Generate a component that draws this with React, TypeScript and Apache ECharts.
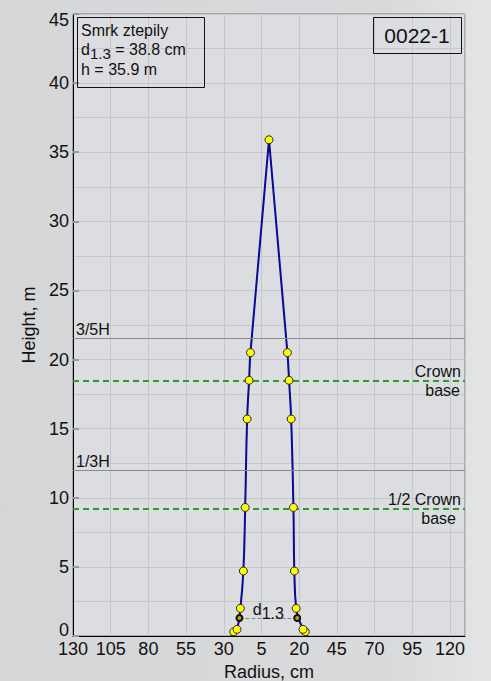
import React, { useEffect, useRef } from "react";
import * as echarts from "echarts";

// ---- data -------------------------------------------------------------
const AXIS_CENTER = 130; // radius 0 sits in the middle of a 0..260 mirrored axis
const AXIS_SPAN = 260;
const X_INTERVAL = 25;
const Y_MAX = 45;
const Y_INTERVAL = 5;

// measured stem profile (height m, radius cm)
const stemHeights = [0.31, 0.48, 2.0, 4.7, 9.3, 15.7, 18.5, 20.5, 35.9];
const leftRadii = [23.4, 21.2, 19.0, 17.0, 15.8, 14.5, 13.2, 12.3, 0];
const rightRadii = [24.1, 22.6, 18.0, 16.8, 16.2, 14.7, 13.3, 12.2, 0];
const groundHeight = 0;
const groundLeftRadius = 25.0;
const groundRightRadius = 25.4;

// diameter at breast height
const d13Height = 1.3;
const d13Left = 19.6;
const d13Right = 18.7;

// reference lines
const refLineNames = ["3/5H", "1/3H"];
const refLineHeights = [21.54, 11.97];
const crownLineNames = ["Crown", "1/2 Crown"];
const crownLineSubNames = ["base", "base"];
const crownLineHeights = [18.48, 9.24];

// info texts
const speciesName = "Smrk ztepily";
const d13Text = "38.8 cm";
const heightText = "35.9 m";
const treeId = "0022-1";

const FONT = "'Liberation Sans', Arial, Helvetica, sans-serif";

export default function App() {
  const ref = useRef<HTMLDivElement>(null);

  useEffect(() => {
    if (!ref.current) return;
    const chart = echarts.init(ref.current, undefined, { renderer: "svg" });

    const toLeft = (r: number) => AXIS_CENTER - r;
    const toRight = (r: number) => AXIS_CENTER + r;

    const leftLine = [[toLeft(groundLeftRadius), groundHeight]].concat(
      stemHeights.map((h, i) => [toLeft(leftRadii[i]), h])
    );
    const rightLine = [[toRight(groundRightRadius), groundHeight]].concat(
      stemHeights.map((h, i) => [toRight(rightRadii[i]), h])
    );
    const pointData = stemHeights
      .map((h, i) => [toLeft(leftRadii[i]), h])
      .concat(stemHeights.slice(0, -1).map((h, i) => [toRight(rightRadii[i]), h]));

    const refMarkLines: any[] = [];
    refLineHeights.forEach((h, i) => {
      refMarkLines.push({
        yAxis: h,
        lineStyle: { color: "#8a8a8a", width: 1, type: "solid" },
        label: {
          show: true,
          position: "insideStartTop",
          formatter: refLineNames[i],
          color: "#111",
          fontSize: 16,
          fontFamily: FONT,
          distance: [3, 1],
        },
      });
    });
    crownLineHeights.forEach((h, i) => {
      refMarkLines.push({
        yAxis: h,
        lineStyle: { color: "#1f9a1f", width: 1.5, type: [6, 4] },
        label: {
          show: true,
          position: "insideEndTop",
          formatter: crownLineNames[i],
          color: "#111",
          fontSize: 16,
          fontFamily: FONT,
          distance: [4, 1],
        },
      });
      refMarkLines.push({
        yAxis: h,
        lineStyle: { color: "#1f9a1f", width: 1.5, type: [6, 4] },
        label: {
          show: true,
          position: "insideEndBottom",
          formatter: crownLineSubNames[i],
          color: "#111",
          fontSize: 16,
          fontFamily: FONT,
          distance: [5 + i * 4, 2],
        },
      });
    });
    refMarkLines.push([
      {
        coord: [toLeft(d13Left), d13Height],
        lineStyle: { color: "#888", width: 1, type: [4, 2] },
        label: {
          show: true,
          position: "middle",
          formatter: "{d|d}{s|1.3}",
          distance: 0,
          rich: {
            d: { fontSize: 16, fontFamily: FONT, color: "#111", lineHeight: 18 },
            s: {
              fontSize: 16,
              fontFamily: FONT,
              color: "#111",
              lineHeight: 14,
              padding: [9, 0, 0, 0],
            },
          },
        },
      },
      { coord: [toRight(d13Right), d13Height] },
    ]);

    chart.setOption({
      animation: false,
      backgroundColor: "transparent",
      textStyle: { fontFamily: FONT },
      grid: {
        left: 73,
        right: 26,
        top: 14,
        bottom: 45,
        containLabel: false,
        outerBoundsMode: "none",
        show: true,
        backgroundColor: "#dcdde0",
        borderColor: "#777",
        borderWidth: 1,
      },
      xAxis: {
        type: "value",
        min: 0,
        max: AXIS_SPAN,
        interval: X_INTERVAL,
        name: "Radius, cm",
        nameLocation: "middle",
        nameGap: 25,
        nameTextStyle: { fontSize: 18, color: "#111", fontFamily: FONT },
        axisLine: { show: true, onZero: false, lineStyle: { color: "#000", width: 1 } },
        axisTick: { show: false },
        axisLabel: {
          fontSize: 18,
          color: "#111",
          fontFamily: FONT,
          margin: 4,
          formatter: (v: number) => (v >= AXIS_SPAN ? "" : String(Math.abs(v - AXIS_CENTER))),
        },
        splitLine: { show: true, lineStyle: { color: "#c6c7ca", width: 1 } },
      },
      yAxis: {
        type: "value",
        min: 0,
        max: Y_MAX,
        interval: Y_INTERVAL,
        name: "Height, m",
        nameLocation: "middle",
        nameGap: 31,
        nameTextStyle: { fontSize: 18, color: "#111", fontFamily: FONT },
        axisLine: { show: true, onZero: false, lineStyle: { color: "#000", width: 1 } },
        axisTick: { show: true, inside: true, length: 6, lineStyle: { color: "#9a9a9a", width: 2 } },
        minorTick: { show: false, splitNumber: 2 },
        minorSplitLine: { show: true, lineStyle: { color: "#c6c7ca", width: 1 } },
        axisLabel: {
          fontSize: 18,
          color: "#111",
          fontFamily: FONT,
          margin: 4,
          lineHeight: 12,
          verticalAlignMinLabel: "bottom",
          verticalAlignMaxLabel: "top",
        },
        splitLine: { show: true, lineStyle: { color: "#c6c7ca", width: 1 } },
      },
      series: [
        {
          type: "line",
          data: leftLine,
          symbol: "none",
          lineStyle: { color: "#8c8c8c", width: 1 },
          z: 2,
          silent: true,
        },
        {
          type: "line",
          data: rightLine,
          symbol: "none",
          lineStyle: { color: "#8c8c8c", width: 1 },
          z: 2,
          silent: true,
        },
        {
          type: "line",
          data: leftLine,
          symbol: "none",
          smooth: 0.5,
          lineStyle: { color: "#0a0a96", width: 2 },
          z: 3,
          silent: true,
        },
        {
          type: "line",
          data: rightLine,
          symbol: "none",
          smooth: 0.5,
          lineStyle: { color: "#0a0a96", width: 2 },
          z: 3,
          silent: true,
        },
        {
          type: "scatter",
          data: pointData,
          symbol: "circle",
          symbolSize: 8,
          itemStyle: { color: "#ffff00", borderColor: "#2a2a2a", borderWidth: 1, opacity: 1 },
          z: 5,
          silent: true,
          markLine: {
            silent: true,
            symbol: ["none", "none"],
            precision: 3,
            data: refMarkLines,
            z: 4,
          },
        },
        {
          type: "scatter",
          data: [
            [toLeft(d13Left), d13Height],
            [toRight(d13Right), d13Height],
          ],
          symbol: "circle",
          symbolSize: 6,
          itemStyle: { color: "#b8a000", borderColor: "#111", borderWidth: 2, opacity: 1 },
          z: 6,
          silent: true,
        },
      ],
      graphic: [
        {
          type: "rect",
          left: 77,
          top: 17,
          shape: { width: 127, height: 70 },
          style: { fill: "rgba(0,0,0,0)", stroke: "#111", lineWidth: 1 },
          z: 10,
        },
        {
          type: "text",
          left: 81,
          top: 22,
          z: 11,
          style: {
            text:
              "{t|" + speciesName + "}\n{t|d}{s|1.3}{t| = " + d13Text + "}\n{t|h = " + heightText + "}",
            fill: "#111",
            rich: {
              t: { fontSize: 16, fontFamily: FONT, lineHeight: 19.5, fill: "#111" },
              s: { fontSize: 15, fontFamily: FONT, lineHeight: 12, padding: [7, 0, 0, 0], fill: "#111" },
            },
          },
        },
        {
          type: "rect",
          left: 373,
          top: 17,
          shape: { width: 88, height: 36 },
          style: { fill: "rgba(0,0,0,0)", stroke: "#111", lineWidth: 1 },
          z: 10,
        },
        {
          type: "text",
          x: 417,
          y: 35.5,
          z: 11,
          style: {
            text: treeId,
            fontSize: 21,
            fontFamily: FONT,
            fill: "#111",
            align: "center",
            verticalAlign: "middle",
          },
        },
      ],
    });

    return () => chart.dispose();
  }, []);

  return (
    <div
      style={{
        position: "fixed",
        left: 0,
        top: 0,
        width: 491,
        height: 681,
        background: "linear-gradient(to right, #d5d6d8 0%, #d9dadc 80%, #e4e5e7 100%)",
      }}
    >
      <div ref={ref} style={{ width: 491, height: 681 }} />
    </div>
  );
}
